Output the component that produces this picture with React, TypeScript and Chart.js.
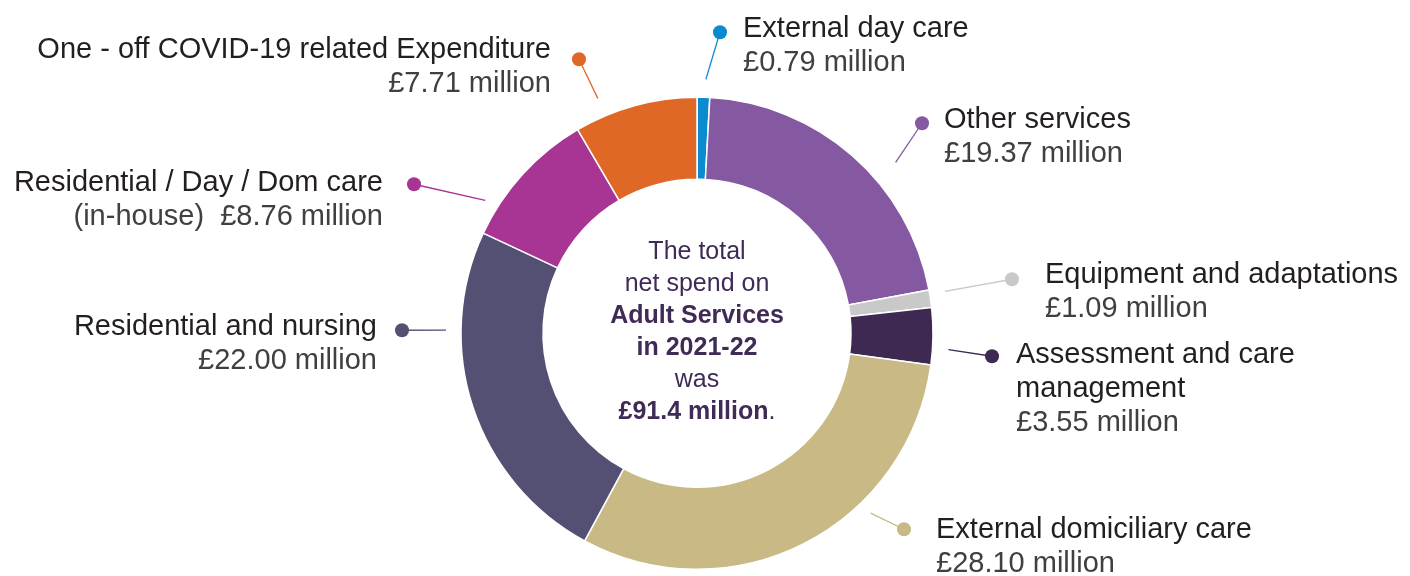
import React, { useEffect, useRef } from "react";
import { Chart, registerables } from "chart.js";

Chart.register(...registerables);

const categories = [
  "External day care",
  "Other services",
  "Equipment and adaptations",
  "Assessment and care management",
  "External domiciliary care",
  "Residential and nursing",
  "Residential / Day / Dom care (in-house)",
  "One - off COVID-19 related Expenditure",
];
const values = [0.79, 19.37, 1.09, 3.55, 28.1, 22.0, 8.76, 7.71];
const colors = [
  "#0A8BD0",
  "#8558A2",
  "#C9C9C9",
  "#3E2952",
  "#C8B985",
  "#545074",
  "#A83493",
  "#E06827",
];
const labelTitleLines = [
  ["External day care"],
  ["Other services"],
  ["Equipment and adaptations"],
  ["Assessment and care", "management"],
  ["External domiciliary care"],
  ["Residential and nursing"],
  ["Residential / Day / Dom care"],
  ["One - off COVID-19 related Expenditure"],
];
const valuePrefixes = ["", "", "", "", "", "", "(in-house)  ", ""];
const centerLines = [
  { text: "The total", bold: false },
  { text: "net spend on", bold: false },
  { text: "Adult Services", bold: true },
  { text: "in 2021-22", bold: true },
  { text: "was", bold: false },
  { text: "£91.4 million", bold: true, suffix: "." },
];

// layout (pixels relative to the doughnut centre)
const labelLayout = [
  { tx: 46, ty: -304, align: "left", dx: 23, dy: -301, ang: 2.0, r: 254 },
  { tx: 247, ty: -213, align: "left", dx: 225, dy: -210, ang: 49.3, r: 262 },
  { tx: 348, ty: -58, align: "left", dx: 315, dy: -54, ang: 80.4, r: 251.5 },
  { tx: 319, ty: 22, align: "left", dx: 295, dy: 23, ang: 93.75, r: 252 },
  { tx: 239, ty: 197, align: "left", dx: 207, dy: 196, ang: 136.0, r: 250 },
  { tx: -320, ty: -6, align: "right", dx: -295, dy: -3, ang: 270.7, r: 251 },
  { tx: -314, ty: -150, align: "right", dx: -283, dy: -149, ang: 302.1, r: 250 },
  { tx: -146, ty: -283, align: "right", dx: -118, dy: -274, ang: 337.1, r: 255 },
];

const FONT = "'Liberation Sans', Arial, Helvetica, sans-serif";

const labelPlugin = {
  id: "leaderLabels",
  afterDraw(chart: any) {
    const ctx = chart.ctx;
    const meta = chart.getDatasetMeta(0);
    const arc0 = meta.data[0];
    if (!arc0) return;
    const cx = arc0.x;
    const cy = arc0.y;
    ctx.save();
    // leader lines + dots
    labelLayout.forEach((l, i) => {
      const a = (l.ang * Math.PI) / 180;
      const sx = cx + l.r * Math.sin(a);
      const sy = cy - l.r * Math.cos(a);
      const dx = cx + l.dx;
      const dy = cy + l.dy;
      ctx.strokeStyle = colors[i];
      ctx.lineWidth = 1.3;
      ctx.beginPath();
      ctx.moveTo(sx, sy);
      ctx.lineTo(dx, dy);
      ctx.stroke();
      ctx.fillStyle = colors[i];
      ctx.beginPath();
      ctx.arc(dx, dy, 7, 0, Math.PI * 2);
      ctx.fill();
    });
    // texts
    const lh = 34;
    labelLayout.forEach((l, i) => {
      ctx.textAlign = l.align;
      ctx.textBaseline = "middle";
      const x = cx + l.tx;
      let y = cy + l.ty;
      ctx.font = `29px ${FONT}`;
      ctx.fillStyle = "#231F20";
      labelTitleLines[i].forEach((t) => {
        ctx.fillText(t, x, y);
        y += lh;
      });
      ctx.fillStyle = "#404040";
      ctx.fillText(`${valuePrefixes[i]}£${values[i].toFixed(2)} million`, x, y);
    });
    // centre text
    ctx.fillStyle = "#3F2B56";
    ctx.textBaseline = "middle";
    const clh = 32;
    centerLines.forEach((c: any, i) => {
      const y = cy + (i - 2.5) * clh - 1.5;
      const mainFont = `${c.bold ? "bold " : ""}25px ${FONT}`;
      if (c.suffix) {
        ctx.font = mainFont;
        const w1 = ctx.measureText(c.text).width;
        ctx.font = `25px ${FONT}`;
        const w2 = ctx.measureText(c.suffix).width;
        const start = cx - (w1 + w2) / 2;
        ctx.textAlign = "left";
        ctx.font = mainFont;
        ctx.fillText(c.text, start, y);
        ctx.font = `25px ${FONT}`;
        ctx.fillText(c.suffix, start + w1, y);
      } else {
        ctx.textAlign = "center";
        ctx.font = mainFont;
        ctx.fillText(c.text, cx, y);
      }
    });
    ctx.restore();
  },
};

export default function App() {
  const ref = useRef<HTMLCanvasElement | null>(null);
  useEffect(() => {
    document.body.style.margin = "0";
    if (!ref.current) return;
    const chart = new Chart(ref.current, {
      type: "doughnut",
      data: {
        labels: categories,
        datasets: [
          {
            data: values,
            backgroundColor: colors,
            borderColor: "#FFFFFF",
            borderWidth: 1.5,
            hoverOffset: 0,
          },
        ],
      },
      options: {
        responsive: false,
        animation: false,
        cutout: "65.25%",
        layout: {
          padding: { left: 460.25, right: 476.25, top: 96.5, bottom: 6 },
        },
        plugins: {
          legend: { display: false },
          tooltip: { enabled: false },
        },
        events: [],
      },
      plugins: [labelPlugin],
    });
    return () => chart.destroy();
  }, []);
  return (
    <div style={{ width: 1410, height: 576, background: "#fff" }}>
      <canvas ref={ref} width={1410} height={576} style={{ display: "block" }} />
    </div>
  );
}
